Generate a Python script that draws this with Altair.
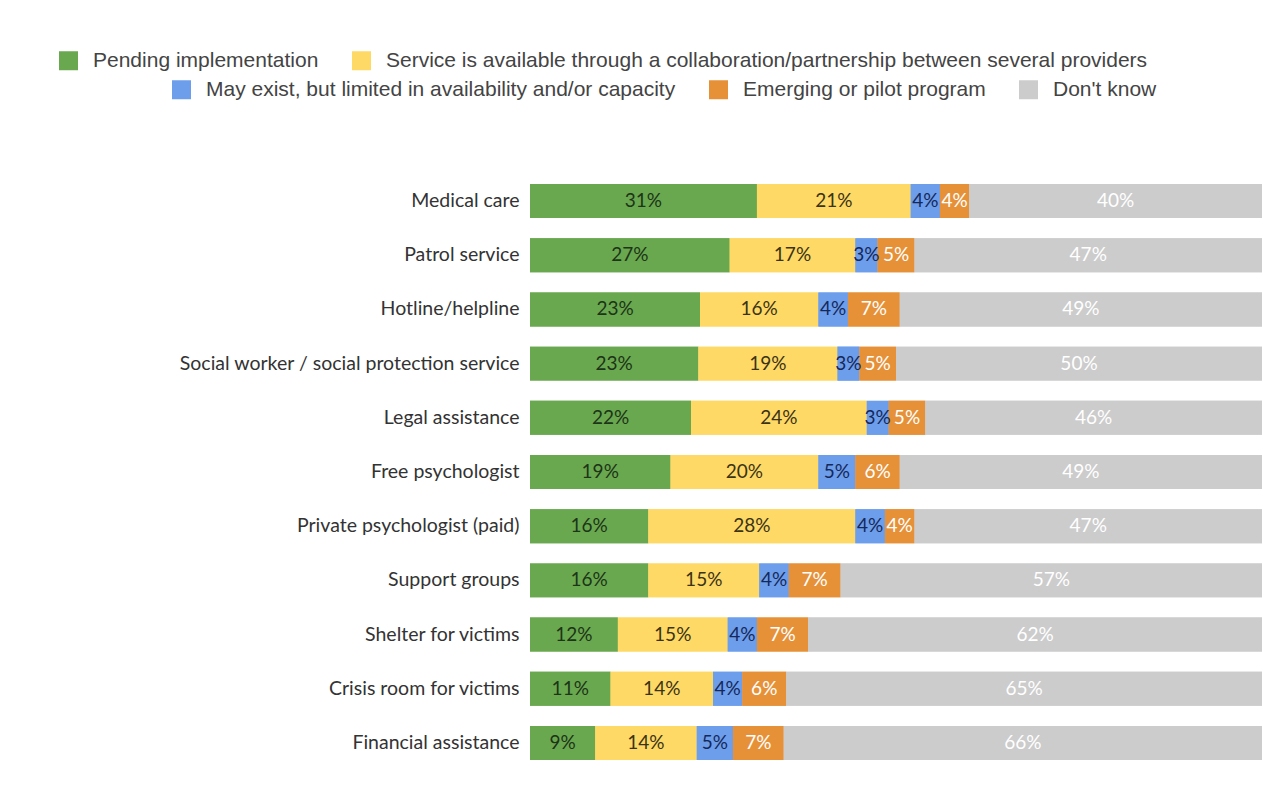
import altair as alt
import pandas as pd

categories = ["Medical care", "Patrol service", "Hotline/helpline",
              "Social worker / social protection service", "Legal assistance",
              "Free psychologist", "Private psychologist (paid)", "Support groups",
              "Shelter for victims", "Crisis room for victims", "Financial assistance"]
series = ["Pending implementation",
          "Service is available through a collaboration/partnership between several providers",
          "May exist, but limited in availability and/or capacity",
          "Emerging or pilot program",
          "Don't know"]
pending = [31, 27, 23, 23, 22, 19, 16, 16, 12, 11, 9]
service = [21, 17, 16, 19, 24, 20, 28, 15, 15, 14, 14]
limited = [4, 3, 4, 3, 3, 5, 4, 4, 4, 4, 5]
emerging = [4, 5, 7, 5, 5, 6, 4, 7, 7, 6, 7]
dontknow = [40, 47, 49, 50, 46, 49, 47, 57, 62, 65, 66]

colors = ["#6aa84f", "#ffd966", "#6d9eeb", "#e69138", "#cccccc"]
label_colors = ["#1c3418", "#3a3314", "#15285a", "#ffffff", "#ffffff"]

values = [pending, service, limited, emerging, dontknow]
rows = []
for si, s in enumerate(series):
    for ci, c in enumerate(categories):
        rows.append({"category": c, "series": s, "order": si, "value": values[si][ci],
                     "tcolor": label_colors[si]})
df = pd.DataFrame(rows)

LABEL_FONT = "Lato"
LEGEND_FONT = "Liberation Sans"

base = alt.Chart(df).transform_stack(
    stack="value", groupby=["category"], as_=["x0", "x1"],
    sort=[alt.SortField("order", order="ascending")], offset="normalize"
).transform_calculate(
    mid="(datum.x0 + datum.x1) / 2",
    label="datum.value + '%'"
)

yenc = alt.Y("category:N", sort=categories, title=None,
             scale=alt.Scale(paddingInner=0.373, paddingOuter=0.1865),
             axis=alt.Axis(domain=False, ticks=False, labelPadding=11, labelLimit=0,
                           labelFont=LABEL_FONT, labelFontSize=19.5, labelColor="#333333"))
xenc = alt.X("x0:Q", scale=alt.Scale(domain=[0, 1]), axis=None)

def legend(vals, lx, ly):
    return alt.Legend(orient="none", legendX=lx, legendY=ly, direction="horizontal",
                      title=None, values=vals, symbolType="square", symbolSize=361,
                      symbolStrokeWidth=0, labelFont=LEGEND_FONT, labelFontSize=21,
                      labelColor="#444444", columnPadding=32, labelOffset=14, padding=0,
                      labelLimit=0)

bars1 = base.mark_bar().encode(
    y=yenc, x=xenc, x2="x1:Q",
    color=alt.Color("series:N", scale=alt.Scale(domain=series, range=colors),
                    legend=legend(series[:2], -472, -124)),
    order=alt.Order("order:Q"),
)
bars2 = base.mark_bar().encode(
    y=yenc, x=xenc, x2="x1:Q",
    color=alt.Color("series:N", scale=alt.Scale(domain=series, range=colors),
                    legend=legend(series[2:], -359, -95)),
    order=alt.Order("order:Q"),
)
text = base.mark_text(font=LABEL_FONT, fontSize=19, baseline="middle", align="center").encode(
    y=yenc,
    x=alt.X("mid:Q", scale=alt.Scale(domain=[0, 1]), axis=None),
    text="label:N",
    color=alt.Color("tcolor:N", scale=None),
)

chart = alt.layer(bars1, bars2, text).resolve_scale(color="independent").properties(
    width=732, height=596,
    autosize=alt.AutoSizeParams(type="none"),
    padding={"left": 530, "top": 174, "right": 26, "bottom": 28},
    background="#ffffff",
).configure_view(stroke=None)

chart.save("out.html", embed_options={"renderer": "svg", "actions": False})
